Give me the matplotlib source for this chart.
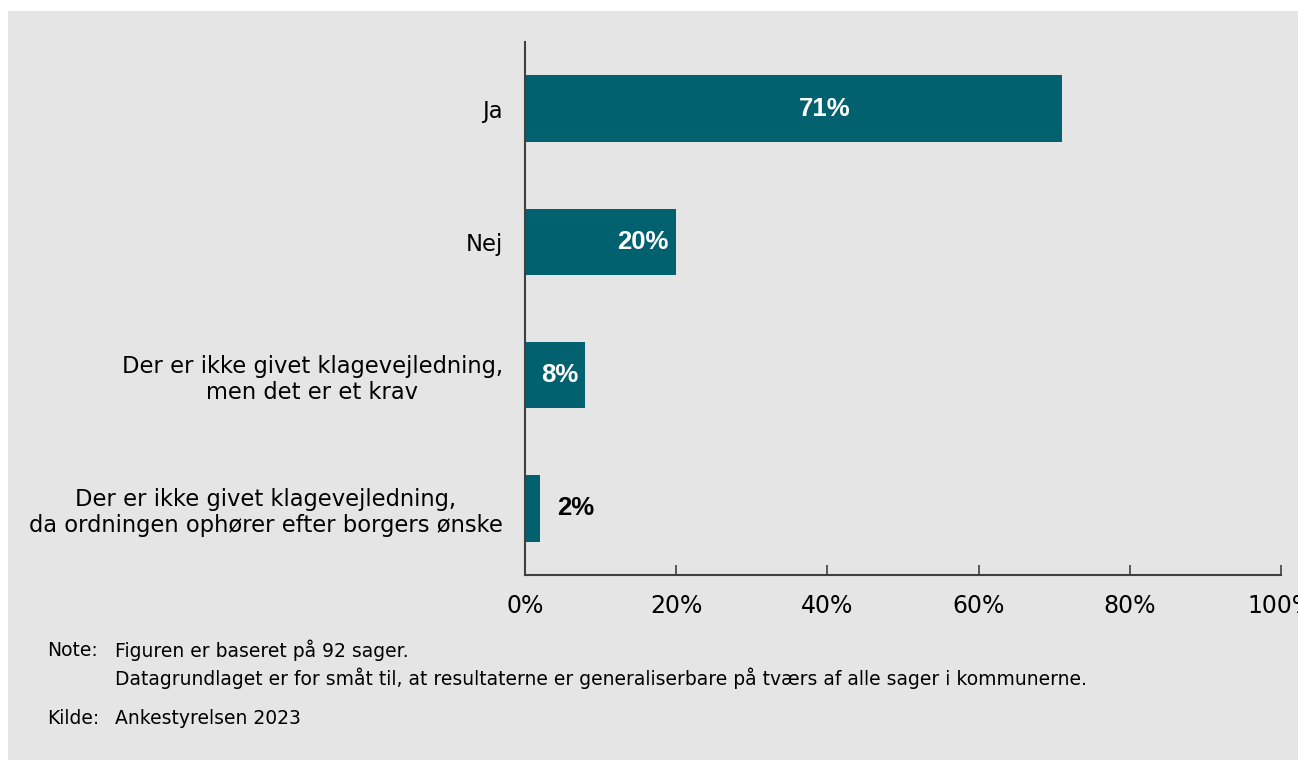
import matplotlib.pyplot as plt
from matplotlib.patches import Rectangle

categories = [
    "Ja",
    "Nej",
    "Der er ikke givet klagevejledning,\nmen det er et krav",
    "Der er ikke givet klagevejledning,\nda ordningen ophører efter borgers ønske",
]
values = [71, 20, 8, 2]
x_ticks = [0, 20, 40, 60, 80, 100]
note_lines = [
    "Figuren er baseret på 92 sager.",
    "Datagrundlaget er for småt til, at resultaterne er generaliserbare på tværs af alle sager i kommunerne.",
]
source = "Ankestyrelsen 2023"

bar_color = "#02616f"
bg = "#e5e5e5"
axis_color = "#404040"

fig = plt.figure(figsize=(12.98, 7.6), dpi=100, facecolor="white")
fig.add_artist(Rectangle((8 / 1298, 0), 1, 1 - 11 / 760, transform=fig.transFigure,
                         facecolor=bg, edgecolor="none", zorder=-5))

ax = fig.add_axes([525 / 1298, 1 - 575 / 760, 756 / 1298, 533 / 760])
ax.set_zorder(2)
ax.patch.set_alpha(0)

pos = list(range(len(categories)))
ax.barh(pos, values, height=0.5, color=bar_color, zorder=2)
ax.set_ylim(3.5, -0.5)
ax.set_xlim(0, 100)

lab_kw = dict(va="center", fontsize=18.5, fontweight="bold", family="Liberation Sans")
for i, v in enumerate(values):
    if v > 50:
        ax.text(v * 0.558, i, f"{v}%", ha="center", color="white", **lab_kw)
    elif v >= 5:
        ax.text(v - 1.0, i, f"{v}%", ha="right", color="white", **lab_kw)
    else:
        ax.text(v + 2.2, i, f"{v}%", ha="left", color="black", **lab_kw)

ax.set_yticks(pos)
ax.set_yticklabels(categories, fontsize=16.3, family="DejaVu Sans", multialignment="center")
ax.tick_params(axis="y", length=0, pad=16)

ax.set_xticks(x_ticks)
ax.set_xticklabels([f"{t}%" for t in x_ticks], fontsize=17, family="DejaVu Sans")
ax.tick_params(axis="x", direction="in", length=7, width=1.2, color=axis_color, pad=14)

for s in ["top", "right"]:
    ax.spines[s].set_visible(False)
for s in ["left", "bottom"]:
    ax.spines[s].set_color(axis_color)
    ax.spines[s].set_linewidth(1.5)

fs = 13.5
fig.text(47 / 1298, 1 - 650 / 760, "Note:", fontsize=fs, va="center")
fig.text(115 / 1298, 1 - 650 / 760, note_lines[0], fontsize=fs, va="center")
fig.text(115 / 1298, 1 - 678 / 760, note_lines[1], fontsize=fs, va="center")
fig.text(47 / 1298, 1 - 718 / 760, "Kilde:", fontsize=fs, va="center")
fig.text(115 / 1298, 1 - 718 / 760, source, fontsize=fs, va="center")

fig.savefig("out.png", dpi=100, facecolor="white")
